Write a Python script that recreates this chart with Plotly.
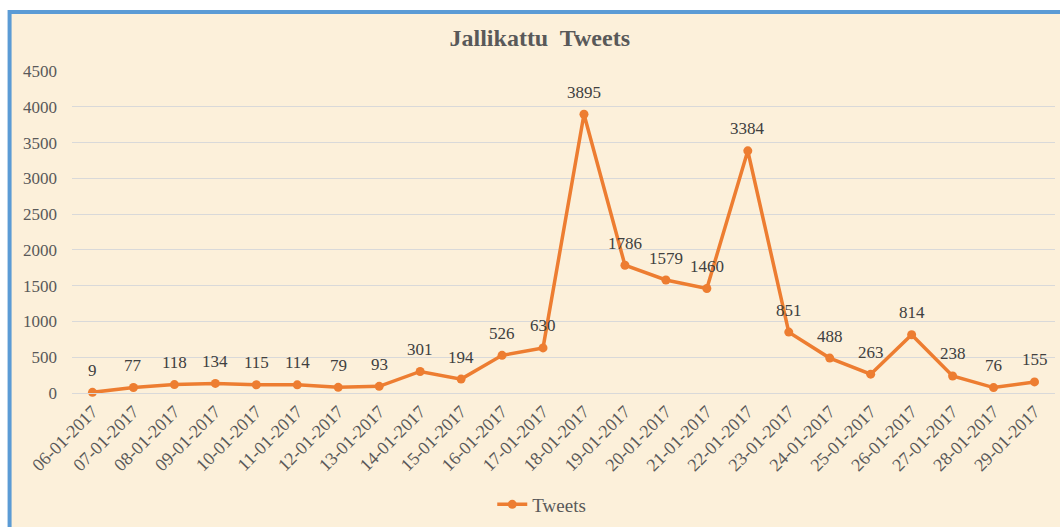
import plotly.graph_objects as go

dates = ["06-01-2017","07-01-2017","08-01-2017","09-01-2017","10-01-2017","11-01-2017",
         "12-01-2017","13-01-2017","14-01-2017","15-01-2017","16-01-2017","17-01-2017",
         "18-01-2017","19-01-2017","20-01-2017","21-01-2017","22-01-2017","23-01-2017",
         "24-01-2017","25-01-2017","26-01-2017","27-01-2017","28-01-2017","29-01-2017"]
tweets = [9, 77, 118, 134, 115, 114, 79, 93, 301, 194, 526, 630,
          3895, 1786, 1579, 1460, 3384, 851, 488, 263, 814, 238, 76, 155]
y_ticks = [0, 500, 1000, 1500, 2000, 2500, 3000, 3500, 4000, 4500]

serif = "Liberation Serif, Times New Roman, serif"
orange = "#ED7D31"

fig = go.Figure()
fig.add_trace(go.Scatter(
    x=dates, y=tweets, mode="lines+markers", name="Tweets",
    line=dict(color=orange, width=3.5),
    marker=dict(color=orange, size=9),
    cliponaxis=False,
))

annotations = [
    dict(x=d, y=v, xref="x", yref="y", text=str(v), showarrow=False,
         yshift=22, xanchor="center", yanchor="middle",
         font=dict(family=serif, size=17, color="#404040"))
    for d, v in zip(dates, tweets)
]

fig.update_layout(
    width=1060, height=527,
    margin=dict(l=72, r=4.5, t=71, b=134, autoexpand=False),
    paper_bgcolor="white",
    plot_bgcolor="rgba(0,0,0,0)",
    title=dict(text="<b>Jallikattu  Tweets</b>", x=(540 - 72) / 983.5, xref="paper",
               xanchor="center", y=1 - 38/527, yanchor="middle",
               font=dict(family=serif, size=24, color="#595959")),
    showlegend=True,
    legend=dict(orientation="h", x=(542 - 72) / 983.5, xanchor="center",
                y=-(505 - 393.3) / 322.6, yanchor="middle",
                font=dict(family=serif, size=19, color="#595959"),
                bgcolor="rgba(0,0,0,0)"),
    annotations=annotations,
    shapes=[dict(type="rect", xref="paper", yref="paper",
                 x0=-0.0635, x1=1.02, y0=-0.45, y1=1.183,
                 fillcolor="#FCF0DA", line=dict(color="#5B9BD5", width=4),
                 layer="below")],
)
fig.update_xaxes(
    type="category", tickangle=-45, automargin=False,
    range=[-0.5, len(dates) - 0.5],
    tickfont=dict(family=serif, size=18, color="#595959"),
    showgrid=False, showline=True, linecolor="#D9D9D9", linewidth=1,
    ticks="",
)
fig.update_yaxes(
    range=[0, 4500], tickvals=y_ticks, automargin=False,
    tickfont=dict(family=serif, size=17, color="#595959"),
    showgrid=True, gridcolor="#D9D9D9", gridwidth=1,
    zeroline=False, showline=False, ticks="", ticklabelstandoff=14,
)

fig.write_html("out.html", config={"displayModeBar": False},
               post_script="document.body.style.margin='0';document.body.style.padding='0';")
